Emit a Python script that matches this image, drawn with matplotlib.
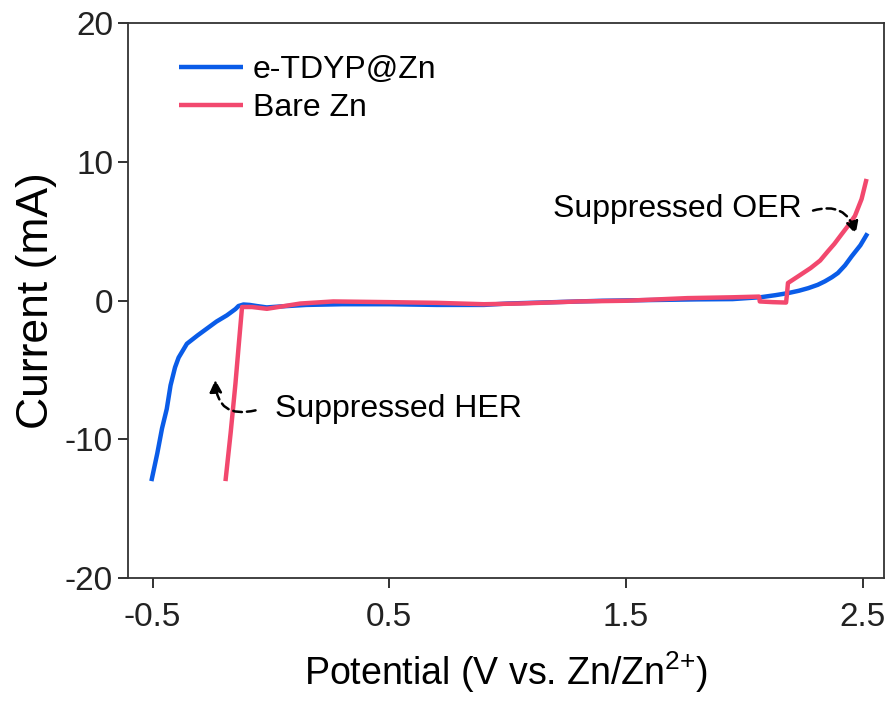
import numpy as np
import matplotlib
matplotlib.use('Agg')
import matplotlib.pyplot as plt

# e-TDYP@Zn
x_tdyp = [-0.505, -0.48, -0.46, -0.44, -0.424, -0.405, -0.39, -0.355, -0.31, -0.27, -0.23, -0.186,
          -0.15, -0.137, -0.116, -0.09, -0.06, -0.018, 0.05, 0.15, 0.3, 0.5, 0.7, 0.9, 1.0,
          1.2, 1.4, 1.6, 1.8, 1.95, 2.071, 2.13, 2.184, 2.23, 2.27, 2.31, 2.34, 2.37,
          2.395, 2.425, 2.453, 2.49, 2.52]
y_tdyp = [-13.0, -11.0, -9.2, -7.8, -6.1, -4.8, -4.1, -3.1, -2.5, -2.0, -1.5, -1.05,
          -0.6, -0.38, -0.27, -0.3, -0.38, -0.48, -0.4, -0.3, -0.25, -0.25, -0.3, -0.3, -0.2,
          -0.1, 0.0, 0.05, 0.1, 0.12, 0.26, 0.4, 0.55, 0.72, 0.91, 1.15, 1.4, 1.7,
          2.0, 2.55, 3.2, 4.0, 4.86]

# Bare Zn
x_bare = [-0.192, -0.17, -0.15, -0.135, -0.122, -0.08, -0.017, 0.05, 0.124, 0.263, 0.5, 0.7,
          0.9, 1.05, 1.3, 1.5, 1.759, 1.95, 2.062, 2.065, 2.12, 2.176, 2.18, 2.184,
          2.227, 2.28, 2.32, 2.353, 2.38, 2.41, 2.44, 2.467, 2.495, 2.516]
y_bare = [-13.0, -9.5, -6.0, -3.0, -0.45, -0.45, -0.58, -0.4, -0.2, -0.05, -0.1, -0.15,
          -0.25, -0.2, -0.05, 0.0, 0.19, 0.25, 0.3, -0.05, -0.1, -0.13, 0.5, 1.28,
          1.76, 2.36, 2.9, 3.57, 4.1, 4.78, 5.45, 6.12, 7.33, 8.78]

xticks = [-0.5, 0.5, 1.5, 2.5]
yticks = [-20, -10, 0, 10, 20]

plt.rcParams['font.family'] = ['Liberation Sans', 'DejaVu Sans']
plt.rcParams['mathtext.fontset'] = 'custom'
plt.rcParams['mathtext.rm'] = 'Liberation Sans'
plt.rcParams['mathtext.it'] = 'Liberation Sans'

fig = plt.figure(figsize=(8.93, 7.06), dpi=100)
ax = fig.add_axes([0.143, 0.181, 0.847, 0.786])

blue = '#0a5ce8'
red = '#f2486e'
ax.plot(x_tdyp, y_tdyp, color=blue, lw=3.2, label='e-TDYP@Zn', solid_capstyle='butt')
ax.plot(x_bare, y_bare, color=red, lw=3.2, label='Bare Zn', solid_capstyle='butt')

ax.set_xlim(-0.605, 2.59)
ax.set_ylim(-20, 20)
ax.set_xticks(xticks)
ax.set_yticks(yticks)
ax.set_xticklabels(['-0.5', '0.5', '1.5', '2.5'], fontsize=24)
ax.set_yticklabels(['-20', '-10', '0', '10', '20'], fontsize=24)
ax.tick_params(direction='out', length=7, width=1.3, top=False, right=False, colors='#222222')
ax.tick_params(axis='x', pad=10)
for s in ax.spines.values():
    s.set_linewidth(1.3)
    s.set_color('#333333')

ax.set_xlabel(r'Potential (V vs. Zn/Zn$^{\mathrm{2{+}}}$)', fontsize=27, labelpad=12)
ax.set_ylabel('Current (mA)', fontsize=32, labelpad=6)

leg = ax.legend(loc='upper left', bbox_to_anchor=(0.03, 0.995), frameon=False, fontsize=23,
                handlelength=2.0, handletextpad=0.3, labelspacing=0.25)

ax.text(0.018, -7.78, 'Suppressed HER', fontsize=23, va='center', ha='left')
ax.text(1.19, 6.63, 'Suppressed OER', fontsize=23, va='center', ha='left')

ax.annotate('', xy=(-0.235, -5.7), xytext=(-0.065, -7.9),
            arrowprops=dict(arrowstyle='-|>', linestyle=(0, (3.5, 2)), lw=1.8, color='black',
                            connectionstyle='arc3,rad=-0.6', mutation_scale=18,
                            shrinkA=0, shrinkB=0))
ax.annotate('', xy=(2.47, 4.8), xytext=(2.29, 6.5),
            arrowprops=dict(arrowstyle='-|>', linestyle=(0, (3.5, 2)), lw=1.8, color='black',
                            connectionstyle='arc3,rad=-0.5', mutation_scale=18,
                            shrinkA=0, shrinkB=0))

fig.savefig('out.png', dpi=100)
